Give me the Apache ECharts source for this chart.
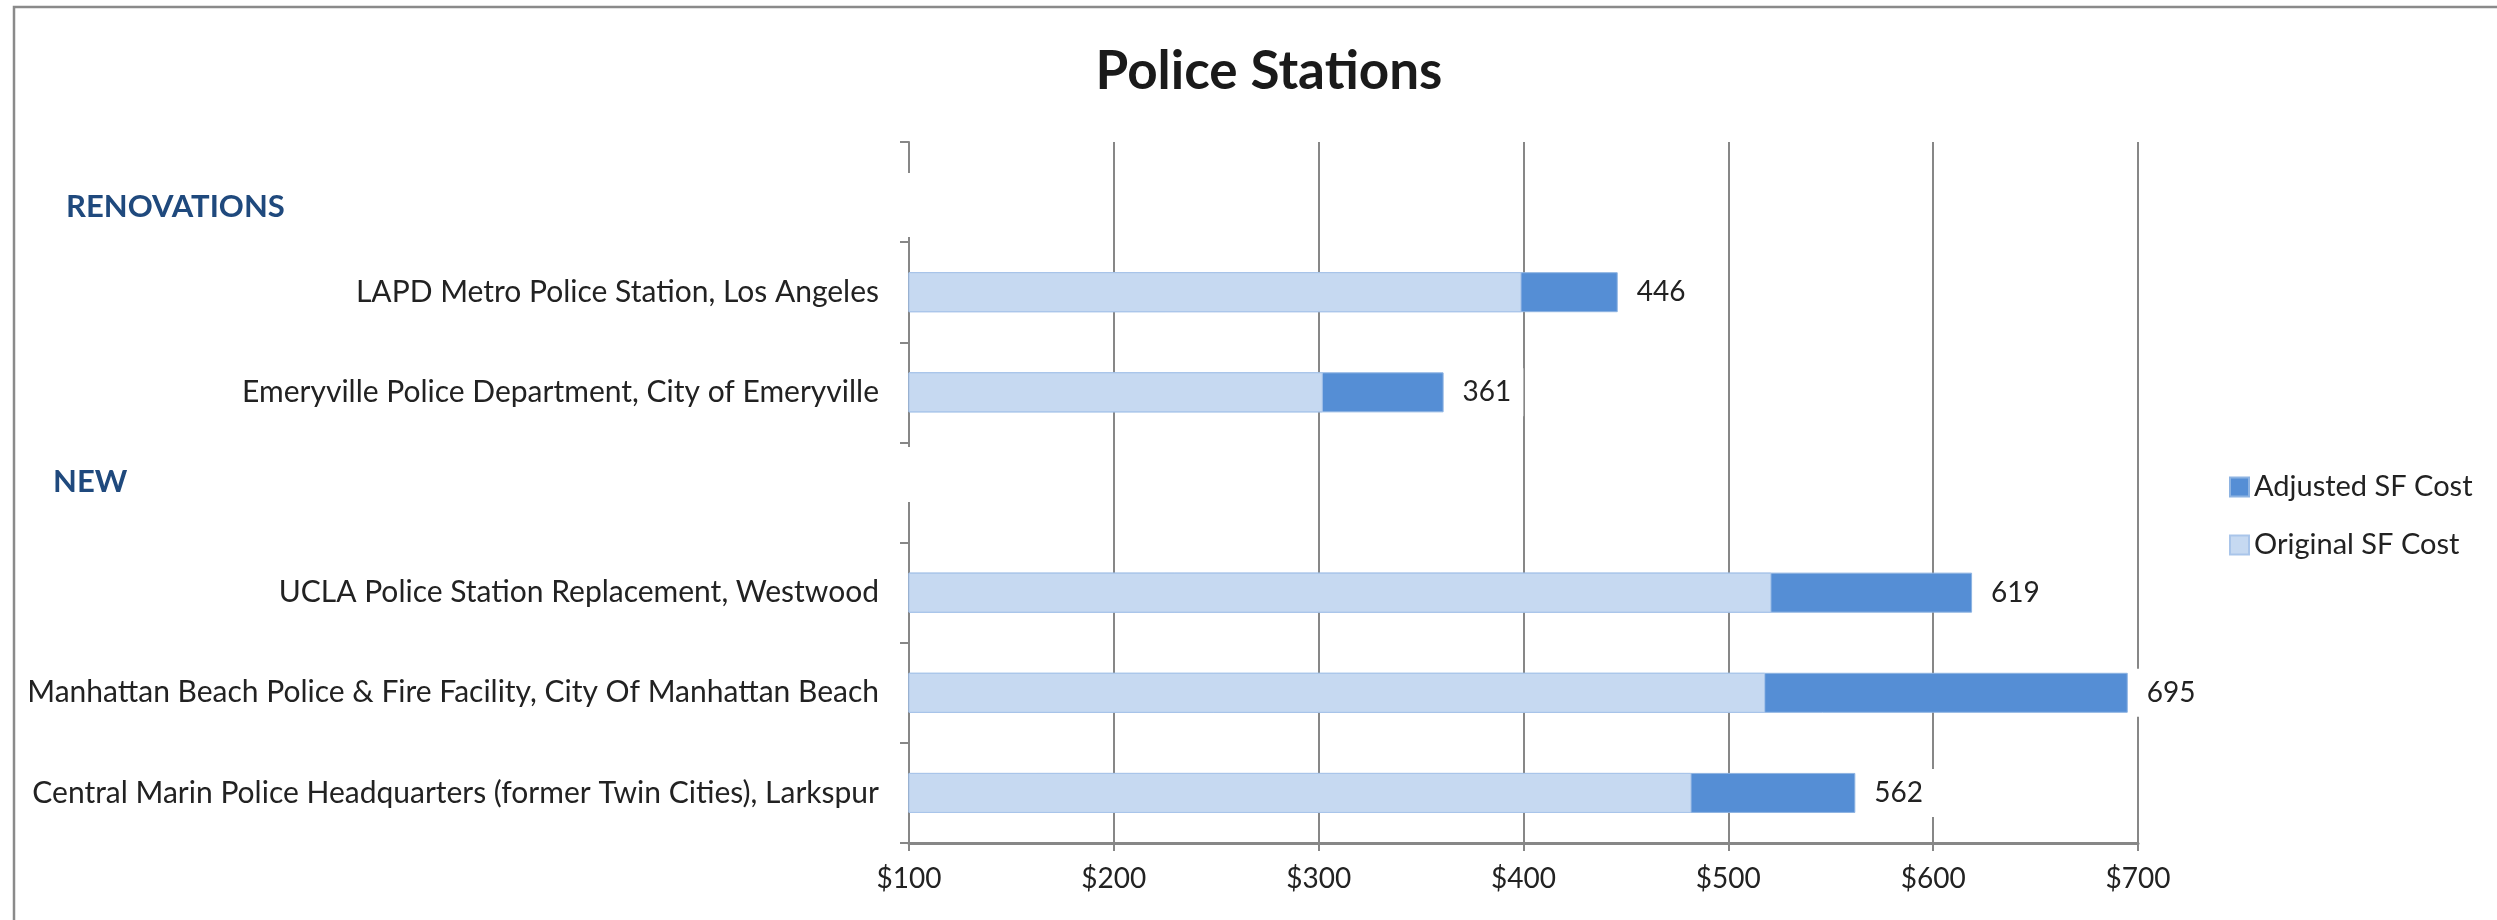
<!DOCTYPE html>
<html>
<head>
<meta charset="utf-8">
<script src="https://cdn.jsdelivr.net/npm/echarts@6/dist/echarts.min.js"></script>
<style>
html,body{margin:0;padding:0;background:#fff;}
#chart{width:2497px;height:920px;}
</style>
</head>
<body>
<div id="chart"></div>
<script>
// Rows top-to-bottom; blank rows hold the section headers
const categories = [
  '',
  'LAPD Metro Police Station, Los Angeles',
  'Emeryville Police Department, City of Emeryville',
  '',
  'UCLA Police Station Replacement, Westwood',
  'Manhattan Beach Police & Fire Facility, City Of Manhattan Beach',
  'Central Marin Police Headquarters (former Twin Cities), Larkspur'
];
const originalCost = [null, 399, 302, null, 521, 518, 482];
const adjustedCost = [null, 446, 361, null, 619, 695, 562];
const xTicks = [100, 200, 300, 400, 500, 600, 700];
const sectionLabels = ['RENOVATIONS', 'NEW'];
const seriesNames = ['Adjusted SF Cost', 'Original SF Cost'];

const FONT = 'Lato, "Open Sans", sans-serif';
const TXT = '#222222';
const AX = '#878787';

const chart = echarts.init(document.getElementById('chart'), null, {renderer: 'canvas'});
chart.setOption({
  backgroundColor: '#ffffff',
  animation: false,
  title: {
    text: 'Police Stations',
    left: 1264,
    top: 36,
    textAlign: 'center',
    textStyle: {fontFamily: FONT, fontWeight: 'bold', fontSize: 53, lineHeight: 62, color: '#1a1a1a'}
  },
  legend: {
    orient: 'vertical',
    left: 2224,
    top: 467,
    padding: 5,
    itemWidth: 19,
    itemHeight: 19,
    itemGap: 28,
    icon: 'rect',
    data: seriesNames,
    textStyle: {fontFamily: FONT, fontSize: 29, lineHeight: 30, color: TXT}
  },
  grid: {left: 909, right: 359, top: 142, bottom: 77, containLabel: false},
  xAxis: {
    type: 'value',
    min: xTicks[0],
    max: xTicks[xTicks.length - 1],
    interval: 100,
    axisLine: {show: true, lineStyle: {color: AX, width: 3}},
    axisTick: {show: true, length: 8, lineStyle: {color: AX, width: 2}},
    splitLine: {show: true, lineStyle: {color: AX, width: 2}},
    axisLabel: {
      margin: 22,
      fontFamily: FONT, fontSize: 28, color: TXT,
      formatter: v => '$' + v
    }
  },
  yAxis: {
    type: 'category',
    inverse: true,
    data: categories,
    axisLine: {show: true, lineStyle: {color: AX, width: 2}},
    axisTick: {show: true, length: 9, lineStyle: {color: AX, width: 2}},
    axisLabel: {margin: 30, fontFamily: FONT, fontSize: 30, color: TXT},
    splitLine: {show: false}
  },
  series: [
    {
      name: seriesNames[0],
      type: 'bar',
      data: adjustedCost,
      barWidth: 40,
      barGap: '-100%',
      clip: true,
      itemStyle: {color: '#558ED5', borderColor: '#8DB3E2', borderWidth: 1},
      label: {
        show: true,
        position: 'right',
        distance: 9,
        fontFamily: FONT,
        fontSize: 28,
        color: TXT,
        backgroundColor: '#ffffff',
        padding: [10, 12, 10, 10]
      }
    },
    {
      name: seriesNames[1],
      type: 'bar',
      data: originalCost,
      barWidth: 40,
      barGap: '-100%',
      clip: true,
      itemStyle: {color: '#C6D9F1', borderColor: '#A9C5EA', borderWidth: 1}
    }
  ],
  graphic: [
    {type: 'rect', z: 100, shape: {x: 14, y: 7, width: 3000, height: 1200},
     style: {fill: null, stroke: '#8a8a8a', lineWidth: 2.5}},
    {type: 'rect', z: 100, shape: {x: 40, y: 173, width: 874, height: 64},
     style: {fill: '#ffffff'}},
    {type: 'rect', z: 100, shape: {x: 40, y: 447, width: 874, height: 55},
     style: {fill: '#ffffff'}},
    {type: 'text', z: 101, x: 66, y: 207,
     style: {text: sectionLabels[0], fill: '#1F497D', font: 'bold 31px ' + FONT, verticalAlign: 'middle'}},
    {type: 'text', z: 101, x: 53, y: 482,
     style: {text: sectionLabels[1], fill: '#1F497D', font: 'bold 31px ' + FONT, verticalAlign: 'middle'}}
  ]
});
</script>
</body>
</html>
